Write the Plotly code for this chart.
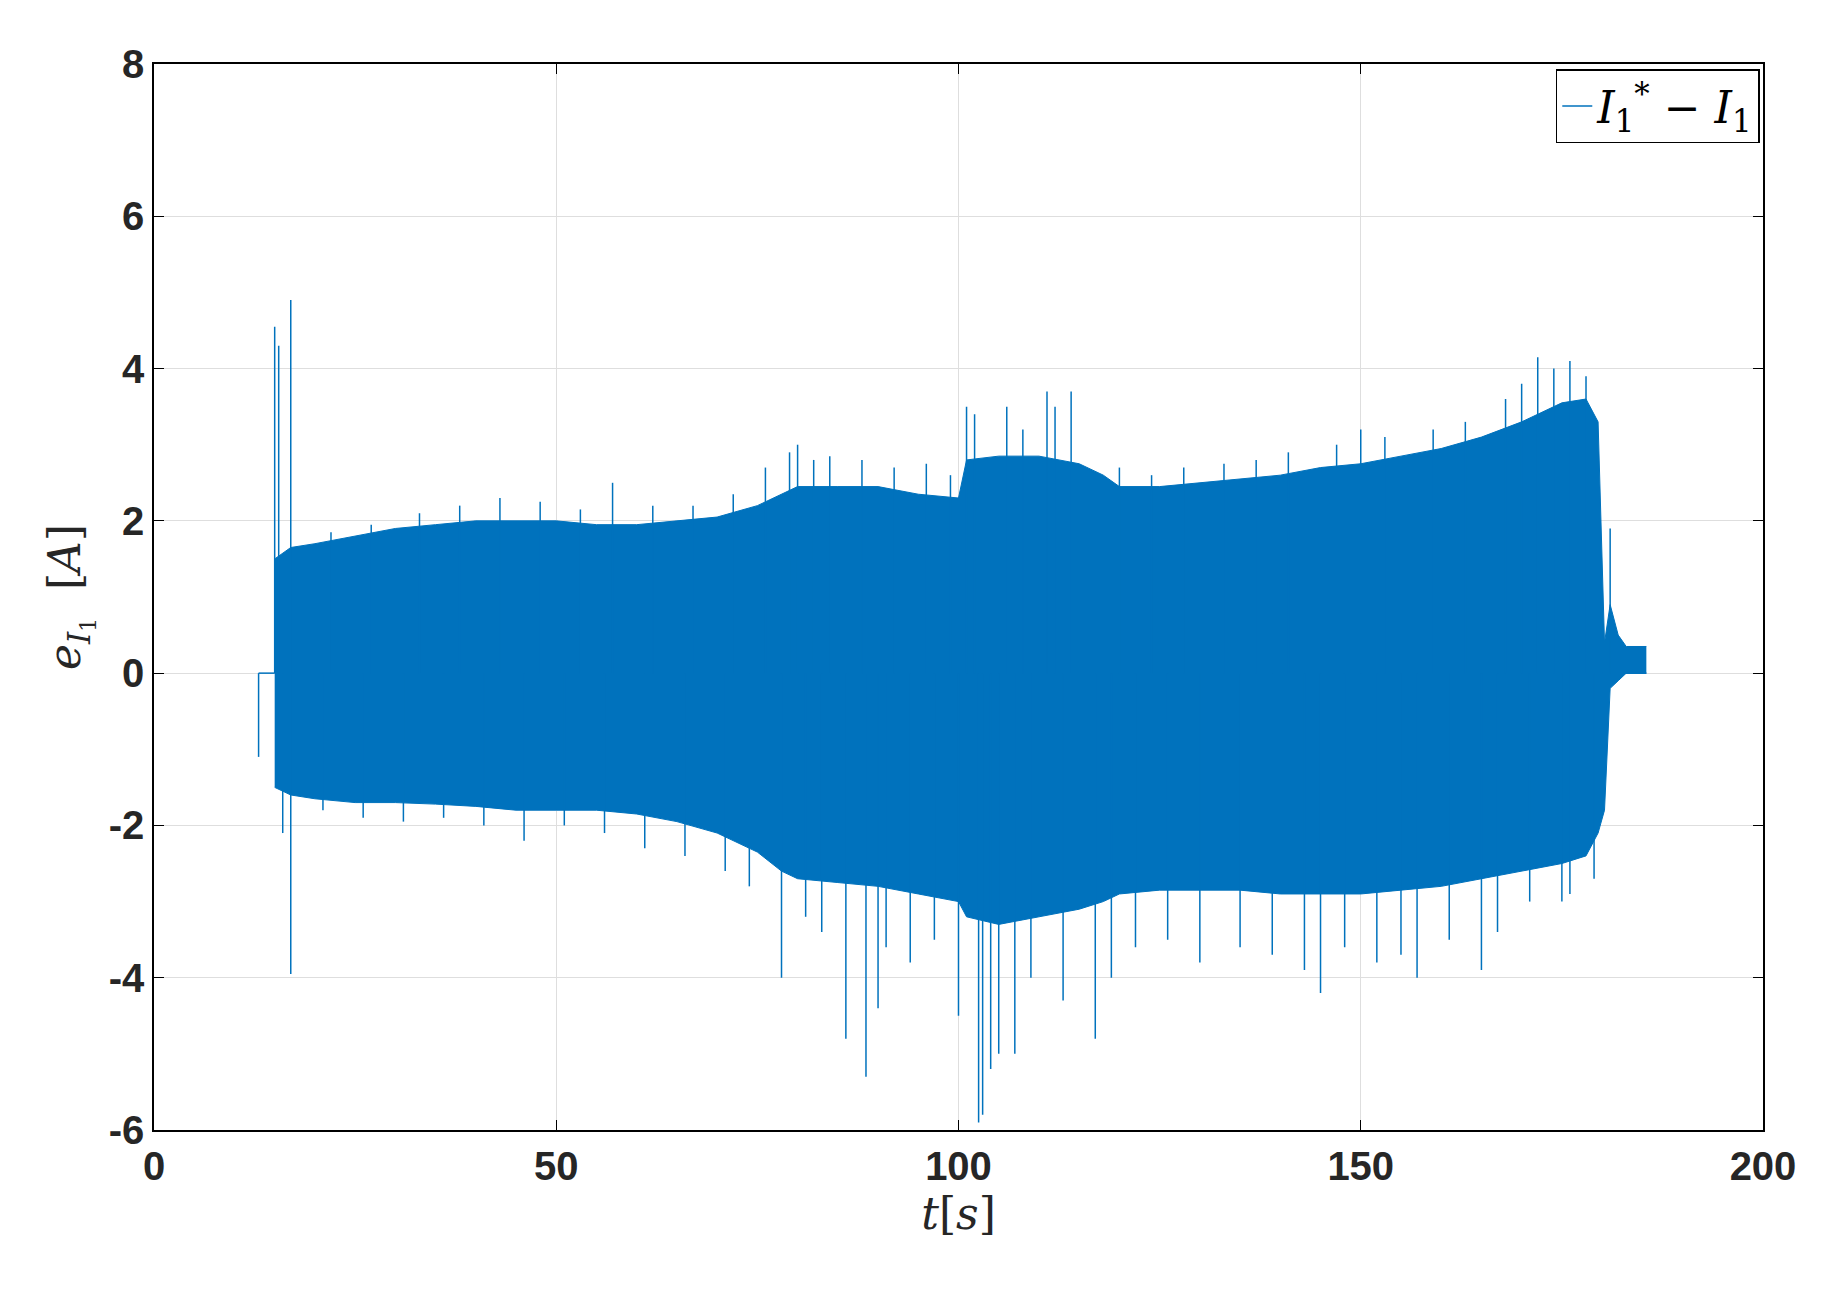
import plotly.graph_objects as go

BLUE = '#0072BD'

# envelope of the dense oscillation
env_t = [15, 17, 20, 25, 30, 35, 40, 45, 50, 55, 60, 65, 70, 75, 78, 80, 85, 90, 95, 100, 101, 105, 110, 115, 118, 120,
         125, 130, 135, 140, 145, 150, 155, 160, 165, 170, 175, 178, 179.5, 180.3, 181, 182, 183, 185.5]
env_hi = [1.5, 1.65, 1.7, 1.8, 1.9, 1.95, 2.0, 2.0, 2.0, 1.95, 1.95, 2.0, 2.05, 2.2, 2.35, 2.45, 2.45, 2.45, 2.35, 2.3, 2.8, 2.85, 2.85, 2.75, 2.6, 2.45,
          2.45, 2.5, 2.55, 2.6, 2.7, 2.75, 2.85, 2.95, 3.1, 3.3, 3.55, 3.6, 3.3, 0.4, 0.9, 0.5, 0.35, 0.35]
env_lo = [-1.5, -1.6, -1.65, -1.7, -1.7, -1.72, -1.75, -1.8, -1.8, -1.8, -1.85, -1.95, -2.1, -2.35, -2.6, -2.7, -2.75, -2.8, -2.9, -3.0, -3.2, -3.3, -3.2, -3.1, -3.0, -2.9,
          -2.85, -2.85, -2.85, -2.9, -2.9, -2.9, -2.85, -2.8, -2.7, -2.6, -2.5, -2.4, -2.1, -1.8, -0.2, -0.1, 0.0, 0.0]

# isolated peaks sticking out of the band
spike_t = [13, 15, 15.5, 16, 17, 17, 78, 80, 86, 88.5, 90, 100, 101, 102.5, 103, 104, 106, 107, 111, 114, 117,
           130, 145, 150, 157, 165, 172, 176, 176, 181,
           22, 27, 33, 38, 43, 48, 53, 57, 62, 67, 72, 76, 79, 82, 84, 88, 92, 96, 99, 102, 108, 112, 120, 124, 128,
           133, 137, 141, 147, 153, 159, 163, 168, 170, 174, 178,
           21, 26, 31, 36, 41, 46, 51, 56, 61, 66, 71, 74, 81, 83, 91, 94, 97, 105, 109, 113, 119, 122, 126, 135,
           139, 143, 148, 152, 155, 161, 167, 171, 175, 179]
spike_v = [-1.1, 4.55, 4.3, -2.1, 4.9, -3.95, -4.0, 3.0, -4.8, -5.3, -4.4, -4.5, 3.5, -5.9, -5.8, -5.2, 3.5, -5.0, 3.7, 3.7, -4.8,
           -3.8, -4.2, 3.2, -4.0, -3.9, 4.15, 4.1, -2.9, 1.9,
           1.85, 1.95, 2.1, 2.2, 2.3, 2.25, 2.15, 2.5, 2.2, 2.2, 2.35, 2.7, 2.9, 2.8, 2.85, 2.8, 2.7, 2.75, 2.6, 3.4, 3.2, 3.5, 2.7, 2.6, 2.7,
           2.75, 2.8, 2.9, 3.0, 3.1, 3.2, 3.3, 3.6, 3.8, 4.0, 3.9,
           -1.8, -1.9, -1.95, -1.9, -2.0, -2.2, -2.0, -2.1, -2.3, -2.4, -2.6, -2.8, -3.2, -3.4, -3.6, -3.8, -3.5, -5.0, -4.0, -4.3, -4.0, -3.6, -3.5, -3.6,
           -3.7, -3.9, -3.6, -3.8, -3.7, -3.5, -3.4, -3.0, -3.0, -2.7]

flat_t = [13, 15, None, 180, 185.5]
flat_v = [0, 0, None, 0, 0]

x_ticks = [0, 50, 100, 150, 200]
y_ticks = [-6, -4, -2, 0, 2, 4, 6, 8]

sx, sy = [], []
for t, v in zip(spike_t, spike_v):
    sx += [t, t, None]
    sy += [0, v, None]

fig = go.Figure()
fig.add_trace(go.Scatter(x=env_t, y=env_lo, mode='lines', line=dict(color=BLUE, width=1), showlegend=False, hoverinfo='skip'))
fig.add_trace(go.Scatter(x=env_t, y=env_hi, mode='lines', line=dict(color=BLUE, width=1), fill='tonexty',
                         fillcolor=BLUE, showlegend=False, hoverinfo='skip'))
fig.add_trace(go.Scatter(x=flat_t, y=flat_v, mode='lines', line=dict(color=BLUE, width=1.5), showlegend=False))
fig.add_trace(go.Scatter(x=sx, y=sy, mode='lines', line=dict(color=BLUE, width=1.5),
                         name='<i>I</i><sub>1</sub><sup>*</sup> − <i>I</i><sub>1</sub>'))

ax = dict(showline=True, linecolor='black', linewidth=1.5, mirror='ticks', ticks='inside', ticklen=10,
          tickcolor='black', showgrid=True, gridcolor='#dedede', zeroline=False,
          tickfont=dict(family='Liberation Sans', size=40, color='#262626', weight='bold'))
fig.update_xaxes(ax, range=[0, 200], tickvals=x_ticks, ticktext=[str(v) for v in x_ticks],
                 title=dict(text='<i>t</i>[<i>s</i>]', font=dict(family='DejaVu Serif', size=44, color='#262626'), standoff=10))
fig.update_yaxes(ax, range=[-6, 8], tickvals=y_ticks, ticktext=[str(v) for v in y_ticks],
                 title=dict(text='<i>e</i><sub><i>I</i><sub>1</sub></sub>  [<i>A</i>]', font=dict(family='DejaVu Serif', size=44, color='#262626'), standoff=14))
fig.update_layout(width=1846, height=1292, plot_bgcolor='white', paper_bgcolor='white',
                  margin=dict(l=146, r=91, t=56, b=170),
                  legend=dict(x=0.998, y=0.995, xanchor='right', yanchor='top', bordercolor='black', borderwidth=1.5,
                              bgcolor='white', font=dict(family='DejaVu Serif', size=44, color='black')))
fig.write_html('out.html')
